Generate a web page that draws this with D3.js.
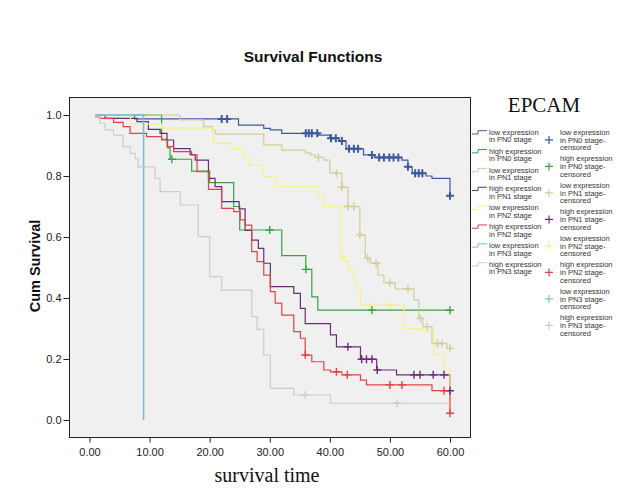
<!DOCTYPE html>
<html><head><meta charset="utf-8">
<script src="https://cdn.jsdelivr.net/npm/d3@7"></script>
<style>body{margin:0;background:#fff;} svg{display:block;}</style>
</head><body><svg id="chart" width="627" height="502"></svg>
<script>
// ---------------- DATA ----------------
const xTicks = [0, 10, 20, 30, 40, 50, 60];
const yTicks = [0, 0.2, 0.4, 0.6, 0.8, 1.0];
const startTime = 1;

const curveLabels = [
  "low expression|in PN0 stage", "high expression|in PN0 stage",
  "low expression|in PN1 stage", "high expression|in PN1 stage",
  "low expression|in PN2 stage", "high expression|in PN2 stage",
  "low expression|in PN3 stage", "high expression|in PN3 stage"
];
const censorLabels = curveLabels.map(l => l.replace("stage", "stage-") + "|censored");

// step data: [time, survival after event]
const lowPN0Steps = [[7.5,0.987],[24.8,0.967],[29,0.956],[30.1,0.951],[32,0.94],[38,0.934],[40,0.924],[41.5,0.915],[42.7,0.889],[45.6,0.869],[47.4,0.861],[52,0.852],[53,0.83],[53.7,0.809],[56,0.8],[57,0.792],[60,0.735]];
const lowPN0Censored = [22,22.9,36,36.5,37,37.9,40.2,41,42,43.2,44,44.7,47,48.2,49,49.9,50.6,51.4,53,54.2,54.8,55.4,60];
const lowPN0End = 60;

const highPN0Steps = [[12,0.92],[13,0.892],[13.4,0.855],[17,0.816],[20,0.778],[24,0.70],[25,0.623],[32,0.539],[36,0.494],[37,0.404],[38,0.36]];
const highPN0Censored = [13.7,30,36,47,60];
const highPN0End = 60;

const lowPN1Steps = [[15,0.984],[19,0.962],[20.5,0.95],[21,0.937],[29,0.902],[32,0.885],[35.9,0.876],[36.8,0.869],[37.5,0.861],[39,0.852],[40,0.809],[42,0.763],[43,0.70],[45,0.607],[45.9,0.53],[46.7,0.514],[48,0.475],[49,0.45],[50.9,0.43],[54,0.393],[54.8,0.333],[55.5,0.306],[57,0.251],[59.5,0.235]];
const lowPN1Censored = [38.1,41.1,42,43,44,45,46.3,47.7,50,53,55.1,56.2,57.9,58.7,60];
const lowPN1End = 60;

const highPN1Steps = [[2.6,0.989],[7.9,0.978],[9.8,0.953],[11.75,0.94],[12.9,0.918],[14,0.89],[16.75,0.87],[17.6,0.852],[19.8,0.792],[20.9,0.765],[22,0.716],[24.9,0.692],[25.9,0.622],[27,0.59],[28.1,0.563],[29,0.514],[30.1,0.437],[34,0.415],[35.1,0.366],[35.9,0.316],[40.1,0.279],[41.1,0.24],[45.1,0.199],[47.8,0.164],[51.1,0.148],[60,0.096]];
const highPN1Censored = [43,45.3,46.1,47,47.9,54,55,57.2,59,60];
const highPN1End = 60;

const lowPN2Steps = [[6.8,0.97],[12,0.957],[20.6,0.907],[23.7,0.89],[25.6,0.863],[26.5,0.836],[29,0.798],[31,0.765],[38,0.738],[39,0.70],[41.75,0.535],[42.5,0.52],[43.1,0.49],[44,0.459],[44.5,0.426],[45.1,0.377],[52.3,0.30],[55.6,0.29],[57.3,0.213],[59,0.164],[60,0.04]];
const lowPN2Censored = [42.3,46.75,50];
const lowPN2End = 60;

const highPN2Steps = [[1,0.994],[1.75,0.989],[4,0.976],[5.6,0.962],[6.75,0.94],[9.5,0.929],[12,0.918],[12.9,0.896],[14,0.88],[17,0.869],[17.9,0.814],[19.8,0.756],[22,0.694],[24,0.683],[25.1,0.656],[25.9,0.639],[27,0.552],[27.9,0.519],[29,0.475],[30.1,0.421],[30.9,0.383],[32,0.344],[34,0.29],[35.1,0.268],[35.9,0.213],[37,0.191],[39,0.164],[40.1,0.158],[42,0.148],[45.1,0.131],[46.1,0.115],[57,0.096],[60,0.022]];
const highPN2Censored = [35.9,41.1,42.9,50,52,59,60];
const highPN2End = 60;

const lowPN3Steps = [[9,0]];
const lowPN3Censored = [];
const lowPN3End = 9;

const highPN3Steps = [[1,0.994],[1.75,0.973],[2.6,0.951],[4,0.934],[5.6,0.896],[6.75,0.874],[7.6,0.858],[8.1,0.83],[10.9,0.792],[11.75,0.749],[15.1,0.705],[18.1,0.601],[20,0.47],[22,0.426],[27,0.339],[27.9,0.297],[29,0.213],[30.1,0.104],[34,0.082],[40.1,0.055]];
const highPN3Censored = [35.9,51.2];
const highPN3End = 60;

// ---------------- STYLE ----------------
const palette = ["#3e58a0", "#3aa046", "#d3cd9a", "#6e2a78", "#f6f08c", "#e04246", "#74c2d6", "#cccccc"];

const series = [
  {steps: lowPN0Steps, cens: lowPN0Censored, end: lowPN0End},
  {steps: highPN0Steps, cens: highPN0Censored, end: highPN0End},
  {steps: lowPN1Steps, cens: lowPN1Censored, end: lowPN1End},
  {steps: highPN1Steps, cens: highPN1Censored, end: highPN1End},
  {steps: lowPN2Steps, cens: lowPN2Censored, end: lowPN2End},
  {steps: highPN2Steps, cens: highPN2Censored, end: highPN2End},
  {steps: lowPN3Steps, cens: lowPN3Censored, end: lowPN3End},
  {steps: highPN3Steps, cens: highPN3Censored, end: highPN3End}
];

const svg = d3.select("#chart");
const x = d3.scaleLinear().domain([0, 60]).range([89.5, 450]);
const y = d3.scaleLinear().domain([0, 1]).range([420, 115]);

// plot frame
svg.append("rect").attr("x", 69.5).attr("y", 97.5).attr("width", 401).attr("height", 340)
  .attr("fill", "#f0f0f0").attr("stroke", "#222").attr("stroke-width", 1);

// axes
const xAxis = svg.append("g").attr("transform", "translate(0,437.5)")
  .call(d3.axisBottom(x).tickValues(xTicks).tickFormat(d3.format(".2f")).tickSize(5).tickPadding(6));
const yAxis = svg.append("g").attr("transform", "translate(69.5,0)")
  .call(d3.axisLeft(y).tickValues(yTicks).tickFormat(d3.format(".1f")).tickSize(6).tickPadding(2));
[xAxis, yAxis].forEach(g => {
  g.select(".domain").remove();
  g.selectAll("line").attr("stroke", "#222");
  g.selectAll("text").attr("font-family", "Liberation Sans, Arial, sans-serif").attr("font-size", 11).attr("fill", "#222");
});

// curves
const line = d3.line().x(d => x(d[0])).y(d => y(d[1])).curve(d3.curveStepAfter);
function survAt(steps, t) {
  let s = 1;
  steps.forEach(st => { if (st[0] <= t) s = st[1]; });
  return s;
}
const plus = "M-4,0H4M0,-4V4";
series.forEach((sr, i) => {
  const pts = [[startTime, 1]].concat(sr.steps);
  const last = pts[pts.length - 1];
  if (last[0] < sr.end) pts.push([sr.end, last[1]]);
  svg.append("path").attr("d", line(pts)).attr("fill", "none")
    .attr("stroke", palette[i]).attr("stroke-width", i === 6 ? 1.6 : 1.2);
});
series.forEach((sr, i) => {
  svg.append("g").selectAll("path").data(sr.cens).join("path")
    .attr("d", plus)
    .attr("transform", t => `translate(${x(t)},${y(survAt(sr.steps, t))})`)
    .attr("stroke", palette[i]).attr("stroke-width", i === 0 ? 2 : 1.4).attr("fill", "none");
});

// titles
svg.append("text").attr("x", 313).attr("y", 62).attr("text-anchor", "middle")
  .attr("font-family", "Liberation Sans, Arial, sans-serif").attr("font-weight", "bold")
  .attr("font-size", 15.5).attr("fill", "#111").text("Survival Functions");
svg.append("text").attr("transform", "translate(39.5,266) rotate(-90)").attr("text-anchor", "middle")
  .attr("font-family", "Liberation Sans, Arial, sans-serif").attr("font-weight", "bold")
  .attr("font-size", 14.5).attr("fill", "#111").text("Cum Survival");
svg.append("text").attr("x", 267).attr("y", 482).attr("text-anchor", "middle")
  .attr("font-family", "Liberation Serif, Times New Roman, serif")
  .attr("font-size", 20).attr("fill", "#111").text("survival time");
svg.append("text").attr("x", 544).attr("y", 112).attr("text-anchor", "middle")
  .attr("font-family", "Liberation Serif, Times New Roman, serif")
  .attr("font-size", 21).attr("fill", "#111").text("EPCAM");

// legend
const lg = svg.append("g").attr("font-family", "Liberation Sans, Arial, sans-serif")
  .attr("font-size", 7.5).attr("fill", "#333");
curveLabels.forEach((lab, i) => {
  const y1 = 132.3 + 18.85 * i;
  lg.append("path").attr("d", `M472,${y1 + 1.7}H478V${y1 - 1.6}H487`)
    .attr("fill", "none").attr("stroke", palette[i]).attr("stroke-width", 1);
  lab.split("|").forEach((t, k) => {
    lg.append("text").attr("x", 489).attr("y", y1 + 7.5 * k).attr("dy", "0.35em").text(t);
  });
});
censorLabels.forEach((lab, i) => {
  const y1 = 132.3 + 26.5 * i;
  lg.append("path").attr("d", plus).attr("transform", `translate(549,${y1 + 7.6})`)
    .attr("fill", "none").attr("stroke", palette[i]).attr("stroke-width", 1.2);
  lab.split("|").forEach((t, k) => {
    lg.append("text").attr("x", 560).attr("y", y1 + 7.6 * k).attr("dy", "0.35em").text(t);
  });
});
</script></body></html>
